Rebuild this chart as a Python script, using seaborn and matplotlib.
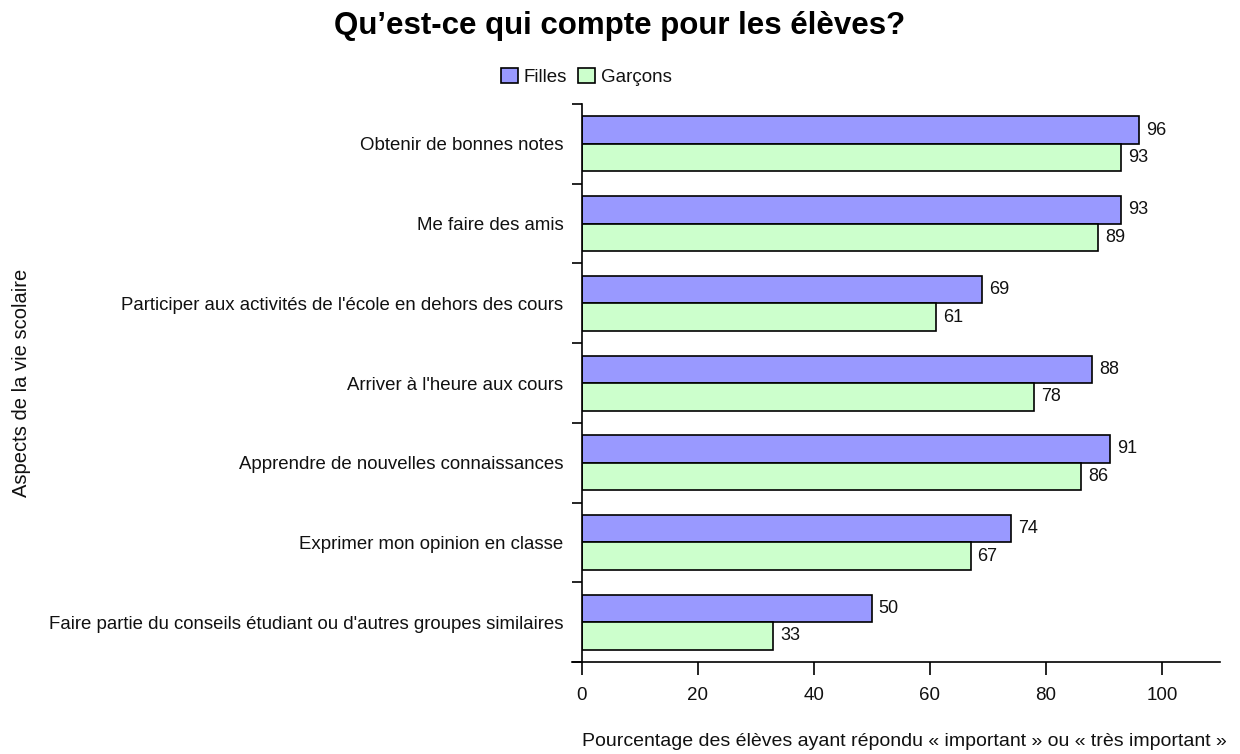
import matplotlib
matplotlib.use("Agg")
import matplotlib.pyplot as plt
from matplotlib import font_manager
import seaborn as sns
import pandas as pd
import numpy as np

categories = [
    "Obtenir de bonnes notes",
    "Me faire des amis",
    "Participer aux activités de l'école en dehors des cours",
    "Arriver à l'heure aux cours",
    "Apprendre de nouvelles connaissances",
    "Exprimer mon opinion en classe",
    "Faire partie du conseils étudiant ou d'autres groupes similaires",
]
filles = [96, 93, 69, 88, 91, 74, 50]
garcons = [93, 89, 61, 78, 86, 67, 33]
series = ["Filles", "Garçons"]
colors = ["#9999FF", "#CCFFCC"]
x_ticks = [0, 20, 40, 60, 80, 100]

title = "Qu’est-ce qui compte pour les élèves?"
x_label = "Pourcentage des élèves ayant répondu « important » ou « très important »"
y_label = "Aspects de la vie scolaire"

sns.set_theme(style="white")
available = {f.name for f in font_manager.fontManager.ttflist}
narrow = "Liberation Sans Narrow" if "Liberation Sans Narrow" in available else "Liberation Sans"
plt.rcParams["font.family"] = [narrow, "DejaVu Sans"]

df = pd.DataFrame({
    "aspect": categories * 2,
    "pct": filles + garcons,
    "groupe": [series[0]] * len(categories) + [series[1]] * len(categories),
})

fig = plt.figure(figsize=(12.4, 7.54), dpi=100)
ax = fig.add_axes([0.469, 0.122, 0.515, 0.740])

sns.barplot(data=df, y="aspect", x="pct", hue="groupe", order=categories,
            hue_order=series, palette=colors, saturation=1, orient="h",
            width=0.69, edgecolor="black", linewidth=1.2, ax=ax, legend=True)

for cont in ax.containers:
    ax.bar_label(cont, fmt="%d", padding=5, fontsize=13, color="#111111")

ax.set_xlim(0, 110)
ax.set_ylim(len(categories) - 0.5, -0.5)
ax.set_xticks(x_ticks)
ax.set_xticklabels([str(t) for t in x_ticks], fontsize=13.5)
ax.tick_params(axis="x", bottom=True, direction="out", length=9, width=1.2,
               color="black", pad=9, labelcolor="#111111")

ax.set_yticks(range(len(categories)))
ax.set_yticklabels(categories, fontsize=13.4)
ax.tick_params(axis="y", which="major", left=False, length=0, pad=13,
               labelcolor="#111111")
ax.set_yticks(np.arange(-0.5, len(categories), 1.0), minor=True)
ax.tick_params(axis="y", which="minor", left=True, direction="out", length=7,
               width=1.2, color="black")

for side in ["top", "right"]:
    ax.spines[side].set_visible(False)
for side in ["left", "bottom"]:
    ax.spines[side].set_color("black")
    ax.spines[side].set_linewidth(1.2)
ax.spines["bottom"].set_bounds(-1.6, 110)
ax.grid(False)

ax.set_xlabel(x_label, fontsize=14, labelpad=20, color="#111111")
ax.xaxis.set_label_coords(0.505, -0.127)
ax.set_ylabel("")
fig.text(0.017, 0.492, y_label, rotation=90, fontsize=14.5, ha="center",
         va="center", color="#111111")

fig.suptitle(title, x=0.5, y=0.985, fontsize=22.5, fontweight="bold",
             family=["Liberation Sans", "DejaVu Sans"], color="black")

handles, labels = ax.get_legend_handles_labels()
ax.legend_.remove()
fig.legend(handles, labels, loc="center", bbox_to_anchor=(0.473, 0.898), ncol=2,
           frameon=False, fontsize=13.5, handlelength=0.9, handleheight=0.9,
           handletextpad=0.3, columnspacing=0.6, borderaxespad=0,
           labelcolor="#111111")

fig.savefig("out.png", dpi=100, facecolor="white")
